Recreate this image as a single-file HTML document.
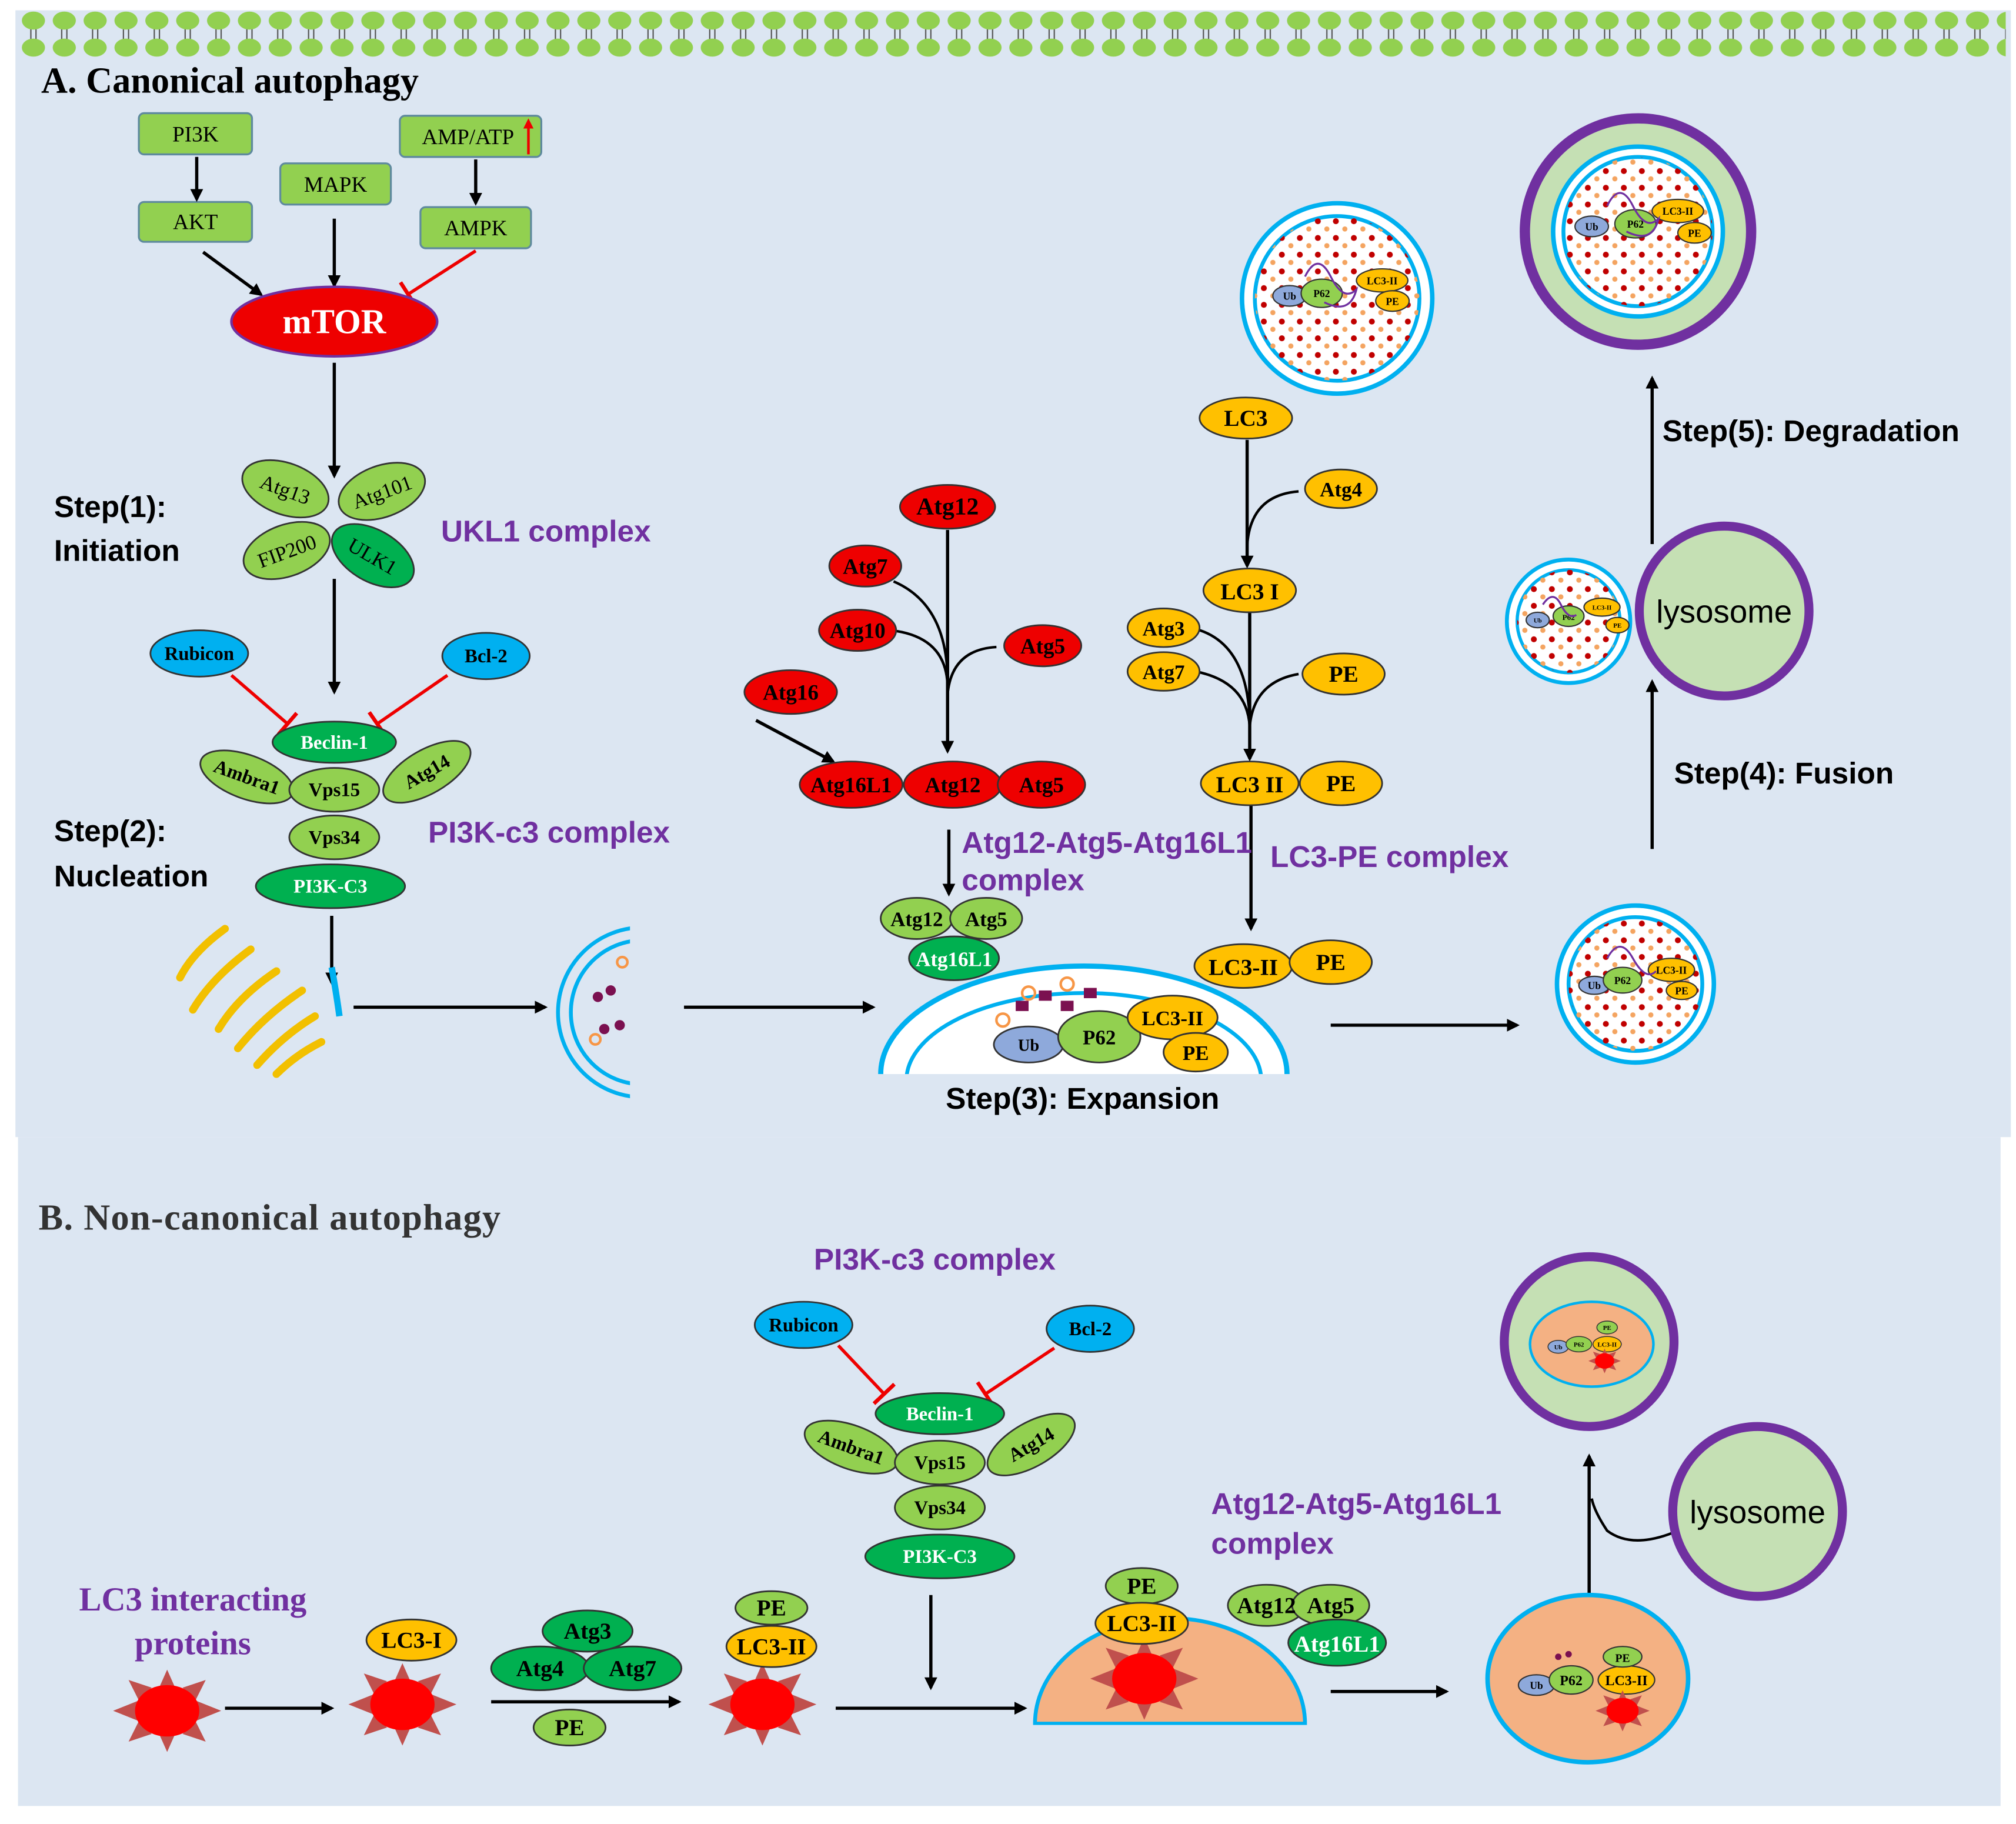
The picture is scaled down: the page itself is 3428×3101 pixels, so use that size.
<!DOCTYPE html>
<html><head><meta charset="utf-8"><style>html,body{margin:0;padding:0;background:#fff}svg{display:block}
.s{font-family:"Liberation Serif",serif}.a{font-family:"Liberation Sans","DejaVu Sans",sans-serif;font-weight:bold}
</style></head><body>
<svg width="3428" height="3101" viewBox="0 0 1568 1418" preserveAspectRatio="none" xmlns="http://www.w3.org/2000/svg">
<defs>
<pattern id="mem" x="14" y="0" width="24" height="50" patternUnits="userSpaceOnUse">
<line x1="10" y1="16" x2="10" y2="36" stroke="#555" stroke-width="1"/><line x1="14" y1="16" x2="14" y2="36" stroke="#555" stroke-width="1"/>
<ellipse cx="12" cy="16" rx="9" ry="7" fill="#92d050"/><ellipse cx="12" cy="37" rx="9" ry="7" fill="#92d050"/></pattern>
<pattern id="dots" width="14" height="13" patternUnits="userSpaceOnUse"><circle cx="3" cy="3" r="2.3" fill="#c00000"/><circle cx="10" cy="9" r="2" fill="#f4a460"/></pattern>
<marker id="ar" markerWidth="10" markerHeight="10" refX="8" refY="5" orient="auto" markerUnits="userSpaceOnUse"><path d="M0,0 L10,5 L0,10 z" fill="#000"/></marker>
<marker id="ib" markerWidth="4" markerHeight="22" refX="2" refY="11" orient="auto" markerUnits="userSpaceOnUse"><rect x="0" y="0" width="3" height="22" fill="#e00"/></marker>
<marker id="ra" markerWidth="8" markerHeight="8" refX="6" refY="4" orient="auto" markerUnits="userSpaceOnUse"><path d="M0,0 L8,4 L0,8 z" fill="#e00"/></marker>
<g id="star"><g fill="#c0504d"><path d="M-42,0 L-22,-8 L-22,8z"/><path d="M42,0 L22,-8 L22,8z"/><path d="M0,-32 L-8,-14 L8,-14z"/><path d="M0,32 L-8,14 L8,14z"/><path d="M-30,-24 L-12,-18 L-22,-8z"/><path d="M30,-24 L12,-18 L22,-8z"/><path d="M-30,24 L-12,18 L-22,8z"/><path d="M30,24 L12,18 L22,8z"/></g><ellipse rx="25" ry="20" fill="#f00"/></g>
<clipPath id="cA"><circle cx="1040" cy="232" r="64"/></clipPath>
<clipPath id="cB"><circle cx="1272" cy="765" r="52"/></clipPath>
<clipPath id="cC"><circle cx="1220" cy="483" r="40"/></clipPath>
<clipPath id="cD"><circle cx="1274" cy="180" r="58"/></clipPath>
<clipPath id="cut"><rect x="0" y="0" width="1568" height="835"/></clipPath>
<clipPath id="cut2"><rect x="0" y="0" width="490" height="900"/></clipPath>
</defs>
<rect width="1568" height="1418" fill="#fff"/>
<rect x="12" y="8" width="1552" height="876" fill="#dce6f2"/>
<rect x="14" y="884" width="1542" height="520" fill="#dce6f2"/>
<rect x="14" y="6" width="1546" height="46" fill="url(#mem)"/>
<text x="32" y="72" class="s" font-size="28.5" font-weight="bold">A. Canonical autophagy</text>
<g stroke="#5f8a9e" stroke-width="1.5" fill="#92d050">
<rect x="108" y="88" width="88" height="32" rx="4"/><rect x="311" y="90" width="110" height="32" rx="4"/>
<rect x="218" y="127" width="86" height="32" rx="4"/><rect x="108" y="157" width="88" height="31" rx="4"/>
<rect x="327" y="161" width="86" height="32" rx="4"/></g>
<g class="s" font-size="17" text-anchor="middle"><text x="152" y="110">PI3K</text><text x="364" y="112">AMP/ATP</text><text x="261" y="149">MAPK</text><text x="152" y="178">AKT</text><text x="370" y="183">AMPK</text></g>
<line x1="411" y1="120" x2="411" y2="94" stroke="#e00" stroke-width="2" marker-end="url(#ra)"/>
<g stroke="#000" stroke-width="2.5" fill="none" marker-end="url(#ar)">
<line x1="153" y1="122" x2="153" y2="155"/><line x1="370" y1="124" x2="370" y2="158"/><line x1="260" y1="170" x2="260" y2="222"/>
<line x1="158" y1="196" x2="203" y2="229"/><line x1="260" y1="282" x2="260" y2="370"/><line x1="260" y1="450" x2="260" y2="538"/>
<line x1="258" y1="712" x2="258" y2="764"/><line x1="275" y1="783" x2="424" y2="783"/><line x1="532" y1="783" x2="679" y2="783"/>
<line x1="1035" y1="797" x2="1180" y2="797"/><line x1="1285" y1="660" x2="1285" y2="530"/><line x1="1285" y1="423" x2="1285" y2="294"/>
<line x1="738" y1="645" x2="738" y2="695"/><line x1="737" y1="412" x2="737" y2="584"/><line x1="588" y1="560" x2="648" y2="592"/>
<line x1="970" y1="342" x2="970" y2="440"/><line x1="972" y1="476" x2="972" y2="590"/><line x1="973" y1="625" x2="973" y2="722"/>
<line x1="175" y1="1328" x2="258" y2="1328"/><line x1="382" y1="1323" x2="528" y2="1323"/><line x1="650" y1="1328" x2="797" y2="1328"/>
<line x1="1035" y1="1315" x2="1125" y2="1315"/><line x1="1236" y1="1247" x2="1236" y2="1132"/><line x1="724" y1="1240" x2="724" y2="1312"/>
</g>
<g stroke="#000" stroke-width="2" fill="none">
<path d="M695,452 Q737,470 737,530"/><path d="M693,490 Q737,495 737,535"/><path d="M775,503 Q740,505 737,540"/>
<path d="M1010,382 Q972,385 970,425"/><path d="M930,489 Q970,500 972,560"/><path d="M930,522 Q970,530 972,565"/><path d="M1010,524 Q975,530 972,565"/>
<path d="M1305,1190 Q1270,1205 1250,1190 Q1240,1175 1238,1165"/></g>
<g stroke="#e00" stroke-width="2.5" marker-end="url(#ib)"><line x1="370" y1="195" x2="317" y2="229"/><line x1="180" y1="525" x2="224" y2="563"/><line x1="348" y1="525" x2="293" y2="563"/>
<line x1="652" y1="1046" x2="688" y2="1084"/><line x1="820" y1="1048" x2="766" y2="1084"/></g>
<ellipse cx="260" cy="250" rx="80" ry="27" fill="#ee0000" stroke="#7030a0" stroke-width="2"/>
<text x="260" y="259" class="s" font-size="27" font-weight="bold" fill="#fff" text-anchor="middle">mTOR</text>
<g stroke="#333" stroke-width="1.3">
<ellipse cx="222" cy="380" rx="35" ry="20" fill="#92d050" transform="rotate(20 222 380)"/>
<ellipse cx="297" cy="382" rx="35" ry="20" fill="#92d050" transform="rotate(-20 297 382)"/>
<ellipse cx="223" cy="428" rx="35" ry="20" fill="#92d050" transform="rotate(-20 223 428)"/>
<ellipse cx="290" cy="432" rx="35" ry="20" fill="#00b050" transform="rotate(30 290 432)"/></g>
<g class="s" font-size="16" text-anchor="middle">
<text x="222" y="386" transform="rotate(20 222 380)">Atg13</text><text x="297" y="388" transform="rotate(-20 297 382)">Atg101</text>
<text x="223" y="434" transform="rotate(-20 223 428)">FIP200</text><text x="290" y="438" transform="rotate(30 290 432)">ULK1</text></g>
<g class="a" font-size="23.5"><text x="42" y="402">Step(1):</text><text x="42" y="436">Initiation</text><text x="42" y="654">Step(2):</text><text x="42" y="689">Nucleation</text>
<text x="842" y="862" text-anchor="middle">Step(3): Expansion</text><text x="1302" y="609">Step(4): Fusion</text><text x="1293" y="343">Step(5): Degradation</text></g>
<g class="a" font-size="23.5" fill="#7030a0"><text x="343" y="421">UKL1 complex</text><text x="333" y="655">PI3K-c3 complex</text><text x="748" y="663">Atg12-Atg5-Atg16L1</text><text x="748" y="692">complex</text>
<text x="988" y="674">LC3-PE complex</text><text x="633" y="987">PI3K-c3 complex</text><text x="942" y="1177">Atg12-Atg5-Atg16L1</text><text x="942" y="1208">complex</text></g>
<g stroke="#333" stroke-width="1.3">
<ellipse cx="155" cy="508" rx="38" ry="18" fill="#00b0f0"/><ellipse cx="378" cy="510" rx="34" ry="18" fill="#00b0f0"/>
<ellipse cx="192" cy="604" rx="38" ry="17" fill="#92d050" transform="rotate(20 192 604)"/>
<ellipse cx="332" cy="600" rx="38" ry="17" fill="#92d050" transform="rotate(-30 332 600)"/>
<ellipse cx="260" cy="614" rx="35" ry="17" fill="#92d050"/><ellipse cx="260" cy="577" rx="48" ry="16" fill="#00b050"/>
<ellipse cx="260" cy="651" rx="35" ry="17" fill="#92d050"/><ellipse cx="257" cy="689" rx="58" ry="17" fill="#00b050"/>
<ellipse cx="625" cy="1030" rx="38" ry="18" fill="#00b0f0"/><ellipse cx="848" cy="1033" rx="34" ry="18" fill="#00b0f0"/>
<ellipse cx="662" cy="1125" rx="38" ry="17" fill="#92d050" transform="rotate(20 662 1125)"/>
<ellipse cx="802" cy="1123" rx="38" ry="17" fill="#92d050" transform="rotate(-30 802 1123)"/>
<ellipse cx="731" cy="1137" rx="35" ry="17" fill="#92d050"/><ellipse cx="731" cy="1099" rx="50" ry="16" fill="#00b050"/>
<ellipse cx="731" cy="1172" rx="35" ry="17" fill="#92d050"/><ellipse cx="731" cy="1210" rx="58" ry="17" fill="#00b050"/></g>
<g class="s" font-size="15" font-weight="bold" text-anchor="middle">
<text x="155" y="513">Rubicon</text><text x="378" y="515">Bcl-2</text><text x="192" y="609" transform="rotate(20 192 604)">Ambra1</text>
<text x="332" y="605" transform="rotate(-30 332 600)">Atg14</text><text x="260" y="619">Vps15</text><text x="260" y="656">Vps34</text>
<text x="260" y="582" fill="#fff">Beclin-1</text><text x="257" y="694" fill="#fff">PI3K-C3</text>
<text x="625" y="1035">Rubicon</text><text x="848" y="1038">Bcl-2</text><text x="662" y="1130" transform="rotate(20 662 1125)">Ambra1</text>
<text x="802" y="1128" transform="rotate(-30 802 1123)">Atg14</text><text x="731" y="1142">Vps15</text><text x="731" y="1177">Vps34</text>
<text x="731" y="1104" fill="#fff">Beclin-1</text><text x="731" y="1215" fill="#fff">PI3K-C3</text></g>
<g fill="none" stroke="#f2c000" stroke-width="6" stroke-linecap="round">
<path d="M175,722 Q150,740 140,760"/><path d="M195,738 Q165,760 150,785"/><path d="M215,755 Q185,775 170,800"/>
<path d="M235,770 Q205,790 185,815"/><path d="M245,790 Q220,805 200,828"/><path d="M250,810 Q230,820 215,835"/></g>
<path d="M258,752 Q262,775 264,790" stroke="#00b0f0" stroke-width="5" fill="none"/>
<g clip-path="url(#cut2)" fill="none" stroke="#00b0f0" stroke-width="3"><circle cx="500" cy="787" r="66"/><circle cx="500" cy="787" r="56"/></g>
<g fill="#7b1050"><circle cx="465" cy="775" r="4"/><circle cx="475" cy="770" r="4"/><circle cx="470" cy="800" r="4"/><circle cx="482" cy="797" r="4"/></g>
<g fill="none" stroke="#f79646" stroke-width="2"><circle cx="484" cy="748" r="4"/><circle cx="463" cy="808" r="4"/></g>
<g clip-path="url(#cut)"><ellipse cx="843" cy="835" rx="158" ry="84" fill="#fff" stroke="#00b0f0" stroke-width="4"/><ellipse cx="843" cy="840" rx="138" ry="68" fill="#fff" stroke="#00b0f0" stroke-width="3"/></g>
<rect x="680" y="836" width="330" height="6" fill="#dce6f2"/>
<g fill="#7b1050"><rect x="790" y="778" width="10" height="8"/><rect x="808" y="770" width="10" height="8"/><rect x="825" y="778" width="10" height="8"/><rect x="843" y="768" width="10" height="8"/></g>
<g fill="none" stroke="#f79646" stroke-width="2"><circle cx="780" cy="793" r="5"/><circle cx="800" cy="772" r="5"/><circle cx="830" cy="765" r="5"/></g>
<g stroke="#333" stroke-width="1.3">
<ellipse cx="800" cy="812" rx="27" ry="14" fill="#8ea9db"/><ellipse cx="855" cy="806" rx="32" ry="20" fill="#92d050"/>
<ellipse cx="912" cy="791" rx="35" ry="17" fill="#ffc000"/><ellipse cx="930" cy="818" rx="25" ry="15" fill="#ffc000"/>
<ellipse cx="713" cy="714" rx="28" ry="16" fill="#92d050"/><ellipse cx="767" cy="714" rx="28" ry="16" fill="#92d050"/><ellipse cx="742" cy="745" rx="35" ry="17" fill="#00b050"/></g>
<g class="s" font-size="16" font-weight="bold" text-anchor="middle"><text x="800" y="817" font-size="13">Ub</text><text x="855" y="812">P62</text><text x="912" y="797">LC3-II</text><text x="930" y="824">PE</text>
<text x="713" y="720">Atg12</text><text x="767" y="720">Atg5</text><text x="742" y="751" fill="#fff">Atg16L1</text></g>
<g stroke="#333" stroke-width="1.3" fill="#ee0000">
<ellipse cx="737" cy="394" rx="37" ry="17"/><ellipse cx="673" cy="440" rx="28" ry="16"/><ellipse cx="667" cy="490" rx="30" ry="16"/>
<ellipse cx="811" cy="502" rx="30" ry="16"/><ellipse cx="615" cy="538" rx="36" ry="17"/>
<ellipse cx="662" cy="610" rx="40" ry="18"/><ellipse cx="741" cy="610" rx="38" ry="18"/><ellipse cx="810" cy="610" rx="34" ry="18"/></g>
<g class="s" font-size="17" font-weight="bold" text-anchor="middle"><text x="737" y="400" font-size="19">Atg12</text><text x="673" y="446">Atg7</text><text x="667" y="496">Atg10</text>
<text x="811" y="508">Atg5</text><text x="615" y="544">Atg16</text><text x="662" y="616">Atg16L1</text><text x="741" y="616">Atg12</text><text x="810" y="616">Atg5</text></g>
<g stroke="#333" stroke-width="1.3" fill="#ffc000">
<ellipse cx="969" cy="325" rx="36" ry="16"/><ellipse cx="1043" cy="380" rx="28" ry="15"/><ellipse cx="972" cy="459" rx="36" ry="17"/>
<ellipse cx="905" cy="488" rx="28" ry="15"/><ellipse cx="905" cy="522" rx="28" ry="15"/><ellipse cx="1045" cy="524" rx="32" ry="16"/>
<ellipse cx="972" cy="609" rx="38" ry="17"/><ellipse cx="1043" cy="609" rx="32" ry="17"/>
<ellipse cx="967" cy="751" rx="38" ry="17"/><ellipse cx="1035" cy="748" rx="32" ry="17"/></g>
<g class="s" font-size="18" font-weight="bold" text-anchor="middle"><text x="969" y="331">LC3</text><text x="1043" y="386" font-size="16">Atg4</text><text x="972" y="466">LC3 I</text>
<text x="905" y="494" font-size="16">Atg3</text><text x="905" y="528" font-size="16">Atg7</text><text x="1045" y="530">PE</text>
<text x="972" y="616">LC3 II</text><text x="1043" y="615">PE</text><text x="967" y="758">LC3-II</text><text x="1035" y="754">PE</text></g>
<circle cx="1040" cy="232" r="74" fill="#fff" stroke="#00b0f0" stroke-width="3.5"/><circle cx="1040" cy="232" r="64" fill="#fff" stroke="#00b0f0" stroke-width="3"/>
<rect x="970" y="160" width="140" height="140" fill="url(#dots)" clip-path="url(#cA)"/>
<circle cx="1272" cy="765" r="61" fill="#fff" stroke="#00b0f0" stroke-width="3.5"/><circle cx="1272" cy="765" r="52" fill="#fff" stroke="#00b0f0" stroke-width="3"/>
<rect x="1215" y="710" width="115" height="115" fill="url(#dots)" clip-path="url(#cB)"/>
<circle cx="1220" cy="483" r="48" fill="#fff" stroke="#00b0f0" stroke-width="3"/><circle cx="1220" cy="483" r="40" fill="#fff" stroke="#00b0f0" stroke-width="2.5"/>
<rect x="1175" y="440" width="90" height="90" fill="url(#dots)" clip-path="url(#cC)"/>
<circle cx="1274" cy="180" r="88" fill="#c5e0b4" stroke="#7030a0" stroke-width="8"/>
<circle cx="1274" cy="180" r="66" fill="#fff" stroke="#00b0f0" stroke-width="3.5"/><circle cx="1274" cy="180" r="58" fill="#fff" stroke="#00b0f0" stroke-width="3"/>
<rect x="1210" y="120" width="130" height="130" fill="url(#dots)" clip-path="url(#cD)"/>
<g stroke="#333" stroke-width="1">
<ellipse cx="1003" cy="230" rx="13" ry="8" fill="#8ea9db"/><ellipse cx="1028" cy="228" rx="16" ry="11" fill="#92d050"/><ellipse cx="1075" cy="218" rx="20" ry="9" fill="#ffc000"/><ellipse cx="1083" cy="234" rx="13" ry="8" fill="#ffc000"/>
<ellipse cx="1240" cy="766" rx="12" ry="7" fill="#8ea9db"/><ellipse cx="1262" cy="762" rx="15" ry="10" fill="#92d050"/><ellipse cx="1300" cy="754" rx="18" ry="9" fill="#ffc000"/><ellipse cx="1308" cy="770" rx="12" ry="7" fill="#ffc000"/>
<ellipse cx="1196" cy="482" rx="9" ry="6" fill="#8ea9db"/><ellipse cx="1220" cy="479" rx="12" ry="8" fill="#92d050"/><ellipse cx="1246" cy="472" rx="14" ry="7" fill="#ffc000"/><ellipse cx="1258" cy="486" rx="9" ry="6" fill="#ffc000"/>
<ellipse cx="1238" cy="176" rx="13" ry="8" fill="#8ea9db"/><ellipse cx="1272" cy="174" rx="16" ry="11" fill="#92d050"/><ellipse cx="1305" cy="164" rx="20" ry="9" fill="#ffc000"/><ellipse cx="1318" cy="181" rx="13" ry="8" fill="#ffc000"/></g>
<g class="s" font-size="8" text-anchor="middle" font-weight="bold"><text x="1003" y="233">Ub</text><text x="1028" y="231">P62</text><text x="1075" y="221">LC3-II</text><text x="1083" y="237">PE</text>
<text x="1240" y="769">Ub</text><text x="1262" y="765">P62</text><text x="1300" y="757">LC3-II</text><text x="1308" y="773">PE</text>
<text x="1272" y="177">P62</text><text x="1238" y="179">Ub</text><text x="1305" y="167">LC3-II</text><text x="1318" y="184">PE</text>
<text x="1196" y="484" font-size="5">Ub</text><text x="1220" y="482" font-size="6">P62</text><text x="1246" y="474" font-size="5">LC3-II</text><text x="1258" y="488" font-size="5">PE</text></g>
<g fill="none" stroke="#7030a0" stroke-width="1.5"><path d="M1015,215 q10,-20 20,0 t20,10 q-5,20 -25,10"/><path d="M1250,160 q10,-20 20,0 t20,10 q-5,20 -25,10"/><path d="M1250,745 q10,-18 20,0 t18,10"/><path d="M1200,470 q8,-12 14,0 t12,8"/></g>
<circle cx="1341" cy="475" r="66" fill="#c5e0b4" stroke="#7030a0" stroke-width="7"/>
<text x="1341" y="484" font-family="Liberation Sans,sans-serif" font-size="25" text-anchor="middle">lysosome</text>
<text x="30" y="956" class="s" font-size="28.5" font-weight="bold" fill="#333" letter-spacing="0.6">B. Non-canonical  autophagy</text>
<g class="s" font-size="26" font-weight="bold" fill="#7030a0" text-anchor="middle"><text x="150" y="1252">LC3 interacting</text><text x="150" y="1286">proteins</text></g>
<path d="M805,1340 A105,82 0 0 1 1015,1340 Z" fill="#f4b183" stroke="#00b0f0" stroke-width="3"/>
<rect x="800" y="1341" width="220" height="8" fill="#dce6f2"/>
<use href="#star" x="130" y="1330"/><use href="#star" x="313" y="1325"/><use href="#star" x="593" y="1325"/><use href="#star" x="890" y="1305"/>
<g stroke="#333" stroke-width="1.3">
<ellipse cx="320" cy="1275" rx="35" ry="16" fill="#ffc000"/>
<ellipse cx="457" cy="1268" rx="35" ry="16" fill="#00b050"/><ellipse cx="420" cy="1297" rx="38" ry="17" fill="#00b050"/><ellipse cx="492" cy="1297" rx="38" ry="17" fill="#00b050"/>
<ellipse cx="443" cy="1343" rx="28" ry="14" fill="#92d050"/>
<ellipse cx="600" cy="1250" rx="28" ry="13" fill="#92d050"/><ellipse cx="600" cy="1280" rx="35" ry="16" fill="#ffc000"/>
<ellipse cx="888" cy="1233" rx="28" ry="14" fill="#92d050"/><ellipse cx="888" cy="1262" rx="36" ry="16" fill="#ffc000"/>
<ellipse cx="985" cy="1248" rx="30" ry="16" fill="#92d050"/><ellipse cx="1035" cy="1248" rx="30" ry="16" fill="#92d050"/><ellipse cx="1040" cy="1277" rx="38" ry="18" fill="#00b050"/></g>
<g class="s" font-size="18" font-weight="bold" text-anchor="middle"><text x="320" y="1281">LC3-I</text><text x="457" y="1274">Atg3</text><text x="420" y="1303">Atg4</text><text x="492" y="1303">Atg7</text>
<text x="443" y="1349">PE</text><text x="600" y="1256">PE</text><text x="600" y="1286">LC3-II</text><text x="888" y="1239">PE</text><text x="888" y="1268">LC3-II</text>
<text x="985" y="1254">Atg12</text><text x="1035" y="1254">Atg5</text><text x="1040" y="1284" fill="#fff">Atg16L1</text></g>
<ellipse cx="1235" cy="1305" rx="78" ry="65" fill="#f4b183" stroke="#00b0f0" stroke-width="3.5"/>
<g fill="#7b1050"><circle cx="1212" cy="1288" r="2.5"/><circle cx="1220" cy="1286" r="2.5"/></g>
<g stroke="#333" stroke-width="1"><ellipse cx="1195" cy="1310" rx="14" ry="8" fill="#8ea9db"/><ellipse cx="1222" cy="1306" rx="17" ry="11" fill="#92d050"/><ellipse cx="1265" cy="1306" rx="22" ry="11" fill="#ffc000"/><ellipse cx="1262" cy="1288" rx="15" ry="8" fill="#92d050"/></g>
<g class="s" font-size="11" font-weight="bold" text-anchor="middle"><text x="1195" y="1313" font-size="8">Ub</text><text x="1222" y="1310">P62</text><text x="1265" y="1310">LC3-II</text><text x="1262" y="1292" font-size="9">PE</text></g>
<use href="#star" transform="translate(1262,1330) scale(0.5)"/>
<circle cx="1236" cy="1043" r="66" fill="#c5e0b4" stroke="#7030a0" stroke-width="7"/>
<ellipse cx="1238" cy="1045" rx="48" ry="33" fill="#f4b183" stroke="#00b0f0" stroke-width="2"/>
<g stroke="#333" stroke-width="0.7"><ellipse cx="1212" cy="1047" rx="8" ry="5" fill="#8ea9db"/><ellipse cx="1228" cy="1045" rx="10" ry="6" fill="#92d050"/><ellipse cx="1250" cy="1045" rx="11" ry="6" fill="#ffc000"/><ellipse cx="1250" cy="1032" rx="8" ry="5" fill="#92d050"/></g>
<g class="s" font-size="5" font-weight="bold" text-anchor="middle"><text x="1212" y="1049">Ub</text><text x="1228" y="1047">P62</text><text x="1250" y="1047">LC3-II</text><text x="1250" y="1034">PE</text></g>
<use href="#star" transform="translate(1248,1058) scale(0.3)"/>
<circle cx="1367" cy="1175" r="66" fill="#c5e0b4" stroke="#7030a0" stroke-width="7"/>
<text x="1367" y="1184" font-family="Liberation Sans,sans-serif" font-size="25" text-anchor="middle">lysosome</text>
</svg>
</body></html>
